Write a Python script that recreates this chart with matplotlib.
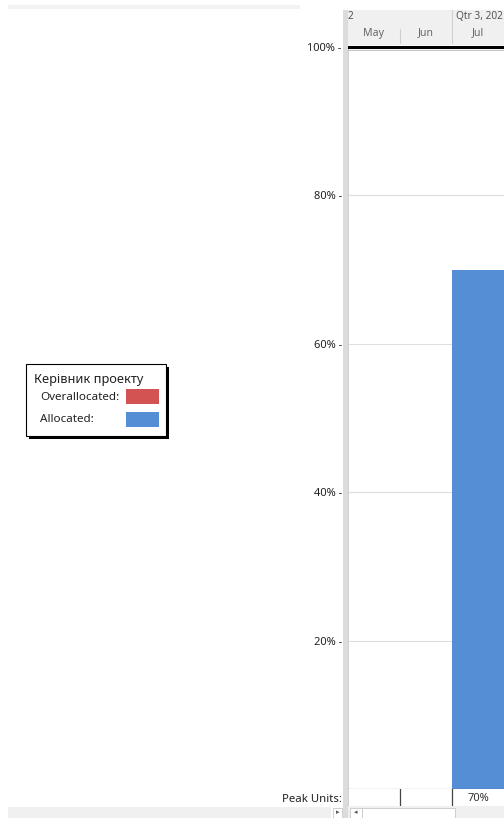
import matplotlib.pyplot as plt
from matplotlib.patches import Rectangle

plt.rcParams['font.family'] = ['Noto Sans', 'DejaVu Sans']

# Resource graph data: one column per month in the timescale
months = ['May', 'Jun', 'Jul']
allocated = [0, 0, 70]
overallocated = [0, 0, 0]
peak_units = ['', '', '70%']
y_ticks = [20, 40, 60, 80, 100]
resource_name = 'Керівник проекту'
quarter_labels = ['2', 'Qtr 3, 202']

W, H = 504, 818
fig = plt.figure(figsize=(W / 100, H / 100), dpi=100)


def box(x0, y0, x1, y1):
    """Pixel box (top-left origin) -> figure fraction rect."""
    return [x0 / W, 1 - y1 / H, (x1 - x0) / W, (y1 - y0) / H]


def px(x, y):
    return x / W, 1 - y / H


def rect(x0, y0, x1, y1, **kw):
    fig.patches.append(Rectangle(px(x0, y1), (x1 - x0) / W, (y1 - y0) / H,
                                 transform=fig.transFigure, **kw))


# window chrome around the graph
rect(8, 5, 300, 9, facecolor='#f2f2f2', edgecolor='none')
rect(8, 807, 331, 818, facecolor='#f0f0f0', edgecolor='none')
rect(333, 808, 342, 818, facecolor='white', edgecolor='#c8c8c8', lw=0.6)
fig.text(*px(337.5, 813), '▸', fontsize=5, color='#555555', ha='center', va='center')
rect(343, 10, 348, 818, facecolor='#dcdcdc', edgecolor='none')
rect(348, 806, 504, 818, facecolor='#f0f0f0', edgecolor='none')
rect(350, 808, 362, 818, facecolor='white', edgecolor='#c8c8c8', lw=0.6)
fig.text(*px(356, 813), '◂', fontsize=5, color='#555555', ha='center', va='center')
rect(362, 808, 455, 818, facecolor='white', edgecolor='#c8c8c8', lw=0.6)

# timescale header
hdr = fig.add_axes(box(348, 10, 504, 45))
hdr.set_xlim(0, 3)
hdr.set_ylim(0, 1)
hdr.axis('off')
hdr.add_patch(Rectangle((0, 0), 3, 1, facecolor='#f0f0f0', edgecolor='none'))
hdr.text(0.0, 0.8, quarter_labels[0], fontsize=7.3, color='#555555', va='center', ha='left')
hdr.text(2.08, 0.8, quarter_labels[1], fontsize=7.3, color='#555555', va='center', ha='left')
for i, m in enumerate(months):
    hdr.text(i + 0.5, 0.34, m, fontsize=7.6, color='#666666', ha='center', va='center')
hdr.plot([1, 1], [0.05, 0.45], color='#d0d0d0', lw=0.8)
hdr.plot([2, 2], [0.05, 1], color='#d0d0d0', lw=0.8)

# graph area
ax = fig.add_axes(box(348, 47, 504, 789))
x = list(range(len(months)))
ax.bar(x, allocated, width=1, align='edge', color='#558ed5', edgecolor='none', zorder=2)
ax.bar(x, overallocated, width=1, align='edge', bottom=allocated,
       color='#d35252', edgecolor='none', zorder=2)
ax.set_xlim(0, 3)
ax.set_ylim(0, 100)
for v in y_ticks[:-1]:
    ax.axhline(v, color='#dedede', lw=0.8, zorder=1)
ax.axhline(100, color='black', lw=2.2, zorder=3, clip_on=False)
ax.plot([0, 3], [99.55, 99.55], color='#bbbbbb', lw=0.6, zorder=3, clip_on=False)
ax.set_xticks([])
ax.set_yticks(y_ticks)
ax.set_yticklabels([f'{v}% -' for v in y_ticks], fontsize=8, color='#222222')
ax.tick_params(axis='y', length=0, pad=4.5)
for s in ['top', 'right']:
    ax.spines[s].set_visible(False)
ax.spines['left'].set_color('#c8c8c8')
ax.spines['left'].set_linewidth(0.6)
ax.spines['bottom'].set_color('#333333')
ax.spines['bottom'].set_linewidth(0.8)

# peak units row
pk = fig.add_axes(box(348, 789, 504, 806))
pk.set_xlim(0, 3)
pk.set_ylim(0, 1)
pk.set_xticks([])
pk.set_yticks([])
for s in ['top', 'right', 'bottom']:
    pk.spines[s].set_visible(False)
pk.spines['left'].set_color('#c8c8c8')
pk.spines['left'].set_linewidth(0.6)
for i in range(1, 3):
    pk.plot([i, i], [0, 1], color='#444444', lw=0.9)
for i, t in enumerate(peak_units):
    pk.text(i + 0.5, 0.45, t, fontsize=8, color='#333333', ha='center', va='center')
fig.text(*px(342, 799), 'Peak Units:', fontsize=8.2, color='#222222', ha='right', va='center')

# legend box with shadow
rect(29, 367, 169, 439, facecolor='black', edgecolor='none')
rect(26, 364, 166, 436, facecolor='white', edgecolor='black', lw=0.8)
fig.text(*px(34, 379), resource_name, fontsize=9.2, color='#222222', ha='left', va='center')
fig.text(*px(40, 397), 'Overallocated:', fontsize=8.4, color='#222222', ha='left', va='center')
fig.text(*px(40, 420), 'Allocated:', fontsize=8.4, color='#222222', ha='left', va='center')
rect(126, 389, 159, 404, facecolor='#d35252', edgecolor='none')
rect(126, 412, 159, 427, facecolor='#558ed5', edgecolor='none')

fig.savefig('out.png', dpi=100)
